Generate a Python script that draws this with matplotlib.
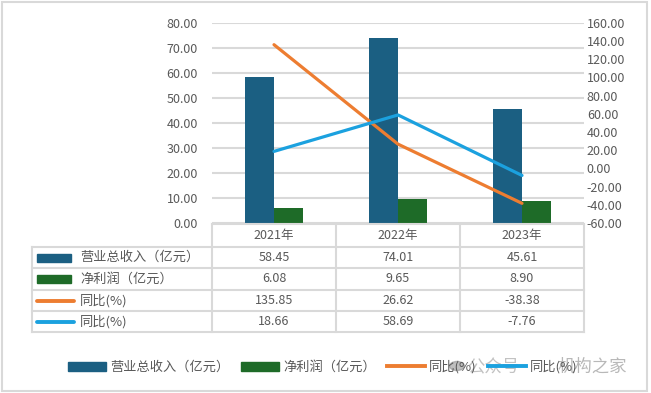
import matplotlib.pyplot as plt
import matplotlib.patches as mpatches
import matplotlib.lines as mlines
import numpy as np

plt.rcParams['font.family'] = ['Noto Sans CJK SC', 'DejaVu Sans']

years = ['2021年', '2022年', '2023年']
revenue = [58.45, 74.01, 45.61]
profit = [6.08, 9.65, 8.90]
yoy_rev = [135.85, 26.62, -38.38]
yoy_profit = [18.66, 58.69, -7.76]
names = ['营业总收入（亿元）', '净利润（亿元）', '同比(%)', '同比(%)']

c_blue = '#1B5F82'
c_green = '#1E6B28'
c_orange = '#ED7D31'
c_light = '#1BA1DF'
c_grid = '#D9D9D9'
c_text = '#595959'

W, H = 651, 393
fig = plt.figure(figsize=(W / 100, H / 100), dpi=100)

def fx(px):
    return px / W

def fy(py):
    return 1 - py / H

# plot area
x0, x1, ytop, ybot = 212, 584, 22.7, 223
ax = fig.add_axes([fx(x0), fy(ybot), fx(x1) - fx(x0), fy(ytop) - fy(ybot)])
ax2 = ax.twinx()

x = np.arange(len(years))
bw = 0.235
ax.bar(x - bw / 2, revenue, bw, color=c_blue, zorder=3)
ax.bar(x + bw / 2, profit, bw, color=c_green, zorder=3)
ax.set_xlim(-0.5, 2.5)
ax.set_ylim(0, 80)
ax.set_yticks(np.arange(0, 81, 10))
ax.set_yticklabels(['%.2f' % v for v in np.arange(0, 81, 10)])
ax.yaxis.grid(True, color=c_grid, linewidth=1.5)
ax.set_axisbelow(True)
ax.set_xticks([])

ax2.plot(x, yoy_rev, color=c_orange, linewidth=2.3, solid_capstyle='round', zorder=4)
ax2.plot(x, yoy_profit, color=c_light, linewidth=2.3, solid_capstyle='round', zorder=4)
ax2.set_ylim(-60, 160)
ax2.set_yticks(np.arange(-60, 161, 20))
ax2.set_yticklabels(['%.2f' % v for v in np.arange(-60, 161, 20)])

for a in (ax, ax2):
    for s in a.spines.values():
        s.set_visible(False)
    a.tick_params(length=0, labelsize=9, labelcolor=c_text)
ax.tick_params(axis='y', pad=10)
ax2.tick_params(axis='y', pad=2)

# data table drawn in figure pixels
cols = [212, 336, 460, 584]
rows = [224, 247, 268, 290, 311, 332]
tleft = 32
lw = 1.5
for xc in cols:
    fig.add_artist(mlines.Line2D([fx(xc)] * 2, [fy(rows[0]), fy(rows[-1])], color=c_grid, lw=lw))
fig.add_artist(mlines.Line2D([fx(tleft)] * 2, [fy(rows[1]), fy(rows[-1])], color=c_grid, lw=lw))
fig.add_artist(mlines.Line2D([fx(cols[0]), fx(cols[-1])], [fy(rows[0])] * 2, color=c_grid, lw=lw))
for ry in rows[1:]:
    fig.add_artist(mlines.Line2D([fx(tleft), fx(cols[-1])], [fy(ry)] * 2, color=c_grid, lw=lw))

for i, yr in enumerate(years):
    cx = (cols[i] + cols[i + 1]) / 2
    fig.text(fx(cx), fy((rows[0] + rows[1]) / 2), yr, ha='center', va='center',
             fontsize=9, color=c_text)

series = [revenue, profit, yoy_rev, yoy_profit]
keys = [('bar', c_blue), ('bar', c_green), ('line', c_orange), ('line', c_light)]
for r, vals in enumerate(series):
    cy = (rows[r + 1] + rows[r + 2]) / 2
    kind, col = keys[r]
    if kind == 'bar':
        fig.add_artist(mpatches.Rectangle((fx(37), fy(cy + 4)), fx(71) - fx(37), fy(cy - 4) - fy(cy + 4),
                                          color=col))
    else:
        fig.add_artist(mlines.Line2D([fx(37), fx(74)], [fy(cy)] * 2, color=col, lw=2.8,
                                     solid_capstyle='round'))
    fig.text(fx(80), fy(cy), names[r], ha='left', va='center', fontsize=9.5, color=c_text)
    for i, v in enumerate(vals):
        cx = (cols[i] + cols[i + 1]) / 2
        fig.text(fx(cx), fy(cy), '%.2f' % v, ha='center', va='center', fontsize=9, color=c_text)

# bottom legend
handles = [mpatches.Patch(color=c_blue), mpatches.Patch(color=c_green),
           mlines.Line2D([], [], color=c_orange, lw=2.8),
           mlines.Line2D([], [], color=c_light, lw=2.8)]
fig.legend(handles, names, loc='center', bbox_to_anchor=(fx(323), fy(367)), ncol=4,
           frameon=False, fontsize=9.5, handlelength=2.9, handletextpad=0.3,
           columnspacing=0.85, labelcolor=c_text)

# watermark (icon + text, partly over the legend as in the source image)
fig.add_artist(mpatches.Circle((fx(457), fy(366)), 7.5 / W, color='#8c8c8c', alpha=0.55,
                               transform=fig.transFigure))
fig.text(fx(467), fy(367), '公众号', ha='left', va='center', fontsize=12.5,
         color='#9a9a9a', alpha=0.6)
fig.text(fx(558), fy(367), '机构之家', ha='left', va='center', fontsize=12.5,
         color='#9a9a9a', alpha=0.7)

# outer border
fig.add_artist(mpatches.Rectangle((fx(2), fy(391)), fx(647) - fx(2), fy(2) - fy(391),
                                  fill=False, edgecolor=c_grid, lw=1.5))

fig.savefig('out.png', dpi=100)
